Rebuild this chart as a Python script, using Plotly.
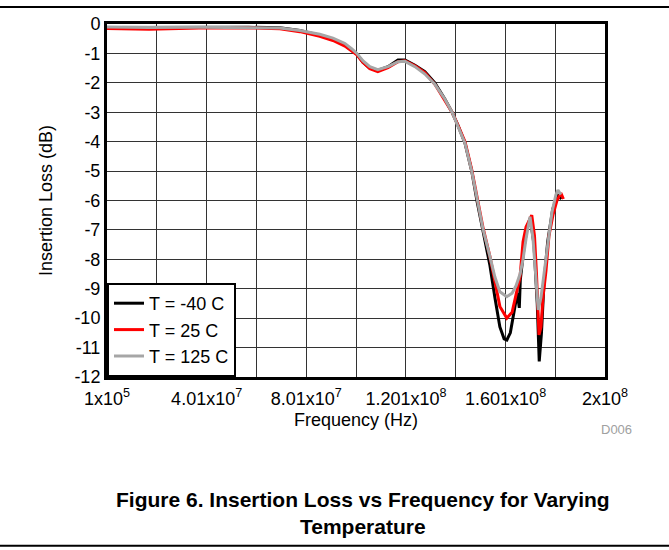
import plotly.graph_objects as go

# Frequency in MHz, insertion loss in dB
freq_m40 = [0.1, 17, 37, 57, 69.5, 77.5, 85.5, 90.8, 95.6, 98.4, 100.4, 102.8, 105.6, 108.8,
            112.9, 116.9, 119.7, 123.7, 127.7, 131.7, 135.7, 138.6, 141.0, 143.8, 146.5, 148.7,
            151.1, 153.8, 155.8, 157.8, 159.5, 160.6, 162.0, 163.5, 164.8, 165.6, 166.0, 167.5,
            168.8, 170.0, 171.5, 172.8, 173.6, 174.5, 175.5, 177.0, 179.0, 181.0, 182.5]
loss_m40 = [-0.12, -0.12, -0.10, -0.11, -0.13, -0.22, -0.38, -0.52, -0.72, -0.90, -1.02, -1.30,
            -1.50, -1.58, -1.45, -1.22, -1.22, -1.40, -1.62, -2.00, -2.55, -3.00, -3.45, -4.05,
            -5.00, -6.05, -7.10, -8.20, -9.30, -10.30, -10.70, -10.74, -10.50, -9.80, -9.15,
            -9.65, -8.70, -7.60, -6.90, -6.60, -7.50, -9.50, -11.47, -10.50, -8.80, -7.40, -6.30,
            -5.80, -5.95]

freq_25 = [0.1, 17, 37, 57, 69.5, 77.5, 85.5, 90.8, 95.6, 98.4, 100.4, 102.8, 105.6, 108.8,
           112.9, 116.9, 119.7, 123.7, 127.7, 131.7, 135.7, 138.6, 141.0, 143.8, 146.5, 148.7,
           151.1, 153.8, 155.8, 157.8, 160.6, 162.7, 164.3, 165.9, 167.1, 168.3, 170.6, 171.7,
           172.5, 173.1, 173.5, 174.3, 175.1, 176.3, 177.5, 179.1, 180.7, 182.3, 183.3]
loss_25 = [-0.15, -0.18, -0.14, -0.13, -0.16, -0.26, -0.42, -0.56, -0.75, -0.92, -1.05, -1.30,
           -1.52, -1.62, -1.48, -1.28, -1.25, -1.42, -1.65, -2.05, -2.60, -3.00, -3.45, -4.00,
           -4.95, -5.95, -6.95, -7.90, -8.80, -9.60, -10.00, -9.80, -9.20, -8.60, -7.40, -6.90,
           -6.50, -7.20, -8.50, -10.20, -10.57, -10.30, -9.30, -8.40, -7.20, -6.50, -6.00,
           -5.75, -5.95]

freq_125 = [0.1, 17, 37, 57, 69.5, 77.5, 85.5, 90.8, 95.6, 98.4, 100.4, 102.8, 105.6, 108.8,
            112.9, 116.9, 119.7, 123.7, 127.7, 131.7, 135.7, 138.6, 141.0, 143.8, 146.5, 148.7,
            151.1, 153.8, 155.8, 157.8, 160.6, 162.7, 164.3, 165.9, 167.1, 168.3, 169.9, 171.1,
            172.3, 173.2, 174.3, 175.9, 177.1, 178.7, 180.3, 181.1, 182.3]
loss_125 = [-0.10, -0.12, -0.11, -0.12, -0.14, -0.22, -0.35, -0.48, -0.66, -0.85, -1.00, -1.25,
            -1.45, -1.55, -1.45, -1.28, -1.27, -1.45, -1.70, -2.05, -2.55, -3.00, -3.50, -4.05,
            -5.00, -6.00, -7.00, -7.90, -8.60, -9.10, -9.27, -9.15, -8.90, -8.50, -8.00, -7.30,
            -6.55, -7.30, -8.70, -9.72, -9.30, -8.20, -7.34, -6.40, -5.80, -5.65, -5.80]

x_tickvals = [1e5, 4.01e7, 8.01e7, 1.201e8, 1.601e8, 2e8]
x_ticktext = ['1x10<sup>5</sup>', '4.01x10<sup>7</sup>', '8.01x10<sup>7</sup>',
              '1.201x10<sup>8</sup>', '1.601x10<sup>8</sup>', '2x10<sup>8</sup>']
y_tickvals = list(range(0, -13, -1))
y_ticktext = [str(v) for v in y_tickvals]

series = [
    ('T = -40 C', freq_m40, loss_m40, '#000000'),
    ('T = 25 C', freq_25, loss_25, '#ff0000'),
    ('T = 125 C', freq_125, loss_125, '#a6a6a6'),
]

FONT = 'Liberation Sans, Arial, sans-serif'

fig = go.Figure()
for name, f, loss, color in series:
    fig.add_trace(go.Scatter(
        x=[v * 1e6 for v in f],
        y=loss,
        mode='lines',
        name=name,
        line=dict(color=color, width=3),
    ))

fig.update_layout(
    width=669,
    height=550,
    paper_bgcolor='white',
    plot_bgcolor='white',
    margin=dict(l=107, r=64, t=24, b=173),
    font=dict(family=FONT, size=18, color='black'),
    showlegend=True,
    legend=dict(
        x=0, y=0, xanchor='left', yanchor='bottom',
        bgcolor='white', bordercolor='black', borderwidth=2,
        font=dict(size=18), tracegroupgap=0,
    ),
)

fig.update_xaxes(
    range=[1e5, 2e8],
    tickmode='array', tickvals=x_tickvals, ticktext=x_ticktext,
    showgrid=True, gridcolor='#333333', gridwidth=1,
    minor=dict(tick0=1e5, dtick=2e7, showgrid=True, gridcolor='#333333', gridwidth=1),
    showline=True, linecolor='black', linewidth=3, mirror=True,
    zeroline=False, ticks='', ticklabelstandoff=3,
    title=dict(text='Frequency (Hz)', font=dict(size=18), standoff=6),
    tickfont=dict(size=18),
)
fig.update_yaxes(
    range=[-12, 0],
    tickmode='array', tickvals=y_tickvals, ticktext=y_ticktext,
    showgrid=True, gridcolor='#333333', gridwidth=1,
    showline=True, linecolor='black', linewidth=3, mirror=True,
    zeroline=False, ticks='',
    title=dict(text='Insertion Loss (dB)', font=dict(size=18), standoff=18),
    tickfont=dict(size=18),
)

# page rules above and below the figure
fig.add_shape(type='line', xref='paper', yref='paper', x0=-0.215, x1=1.13, y0=1.048, y1=1.048,
              line=dict(color='black', width=2))
fig.add_shape(type='line', xref='paper', yref='paper', x0=-0.215, x1=1.13, y0=-0.478, y1=-0.478,
              line=dict(color='black', width=2))

fig.add_annotation(x=1.024, y=-0.150, xref='paper', yref='paper', text='D006',
                   xanchor='center', yanchor='middle',
                   showarrow=False, font=dict(size=13, color='#a0a0a0'))
fig.add_annotation(x=0.515, y=-0.385, xref='paper', yref='paper',
                   text='<b>Figure 6. Insertion Loss vs Frequency for Varying<br>Temperature</b>',
                   xanchor='center', yanchor='middle',
                   showarrow=False, font=dict(size=21, color='black'), align='center')

fig.write_html('out.html', config={'displayModeBar': False},
               post_script="document.body.style.margin='0';")
